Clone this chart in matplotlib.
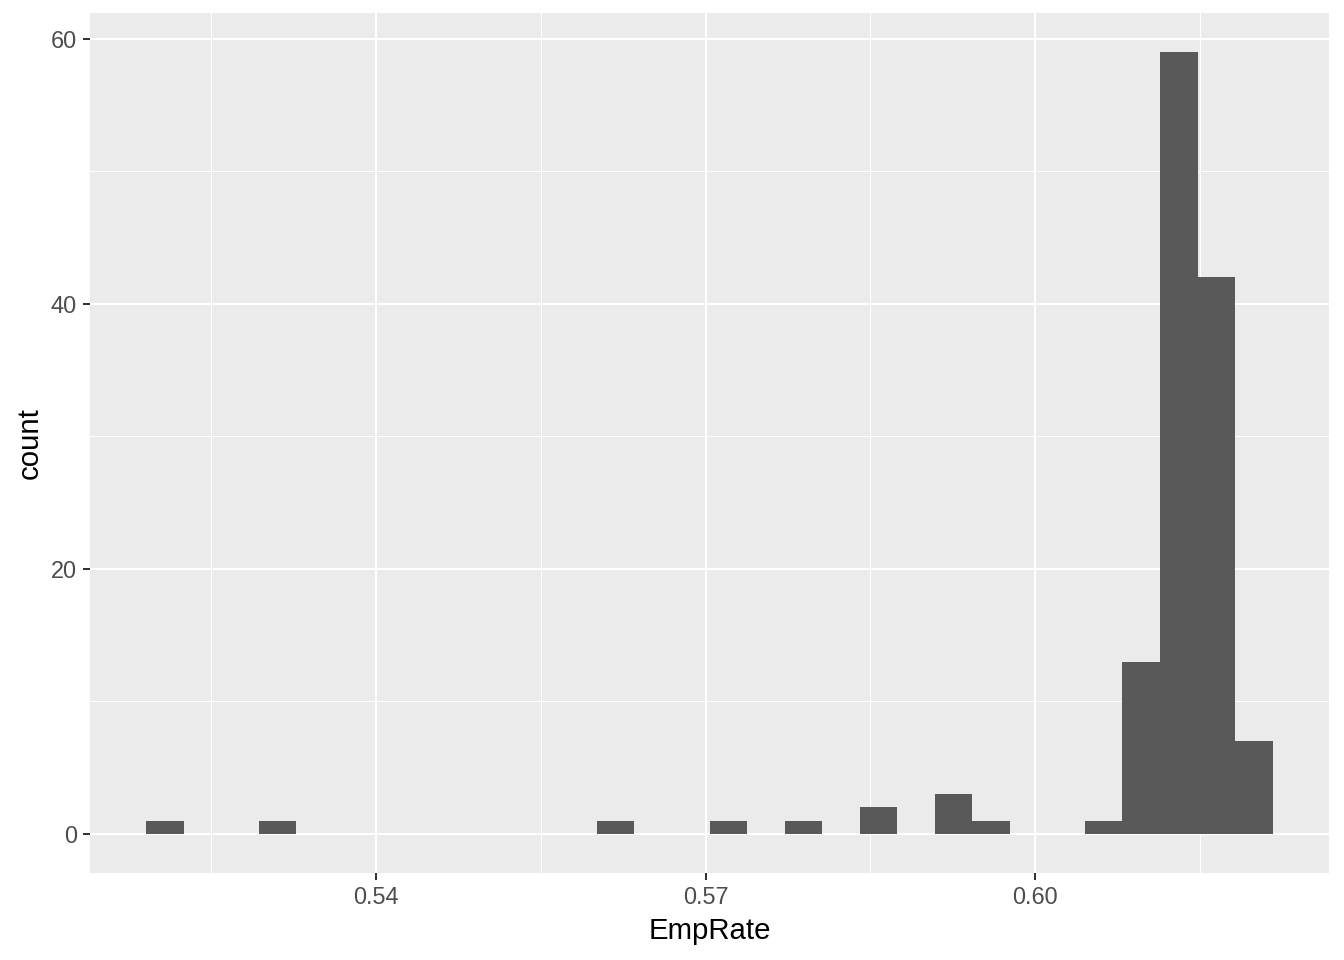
import numpy as np
import matplotlib
matplotlib.use("Agg")
import matplotlib.pyplot as plt
from matplotlib.ticker import MultipleLocator

# histogram of EmpRate, 30 bins (counts)
bin_lo = 0.519091
bin_hi = 0.621636
counts = [1, 0, 0, 1, 0, 0, 0, 0, 0, 0,
          0, 0, 1, 0, 0, 1, 0, 1, 0, 2,
          0, 3, 1, 0, 0, 1, 13, 59, 42, 7]
x_ticks = [0.54, 0.57, 0.60]
x_tick_labels = ["0.54", "0.57", "0.60"]
y_ticks = [0, 20, 40, 60]

plt.rcParams["font.family"] = ["Liberation Sans", "DejaVu Sans"]

edges = np.linspace(bin_lo, bin_hi, len(counts) + 1)
width = edges[1] - edges[0]

fig = plt.figure(figsize=(7, 5), dpi=192)
ax = fig.add_axes([90 / 1344, 1 - 873 / 960, (1329 - 90) / 1344, (873 - 13) / 960])
ax.set_facecolor("#EBEBEB")

ax.bar(edges[:-1], counts, width=width, align="edge", color="#595959", linewidth=0, zorder=3)

# ggplot style expansion of 5%
xr = bin_hi - bin_lo
ax.set_xlim(bin_lo - 0.05 * xr, bin_hi + 0.05 * xr)
ymax = max(counts)
ax.set_ylim(-0.05 * ymax, ymax * 1.05)

ax.set_xticks(x_ticks)
ax.set_xticklabels(x_tick_labels)
ax.set_yticks(y_ticks)
ax.xaxis.set_minor_locator(MultipleLocator(0.015))
ax.yaxis.set_minor_locator(MultipleLocator(10))

ax.grid(which="major", color="white", linewidth=0.75, zorder=1)
ax.grid(which="minor", color="white", linewidth=0.38, zorder=1)
ax.set_axisbelow(True)

for s in ax.spines.values():
    s.set_visible(False)

ax.tick_params(which="major", length=2.75, width=0.75, color="#333333",
               labelsize=8.8, labelcolor="#4D4D4D", pad=2.2)
ax.tick_params(which="minor", length=0)

ax.set_xlabel("EmpRate", fontsize=11, color="black", labelpad=2.75)
ax.set_ylabel("count", fontsize=11, color="black", labelpad=2.75)

fig.savefig("out.png", dpi=192)
